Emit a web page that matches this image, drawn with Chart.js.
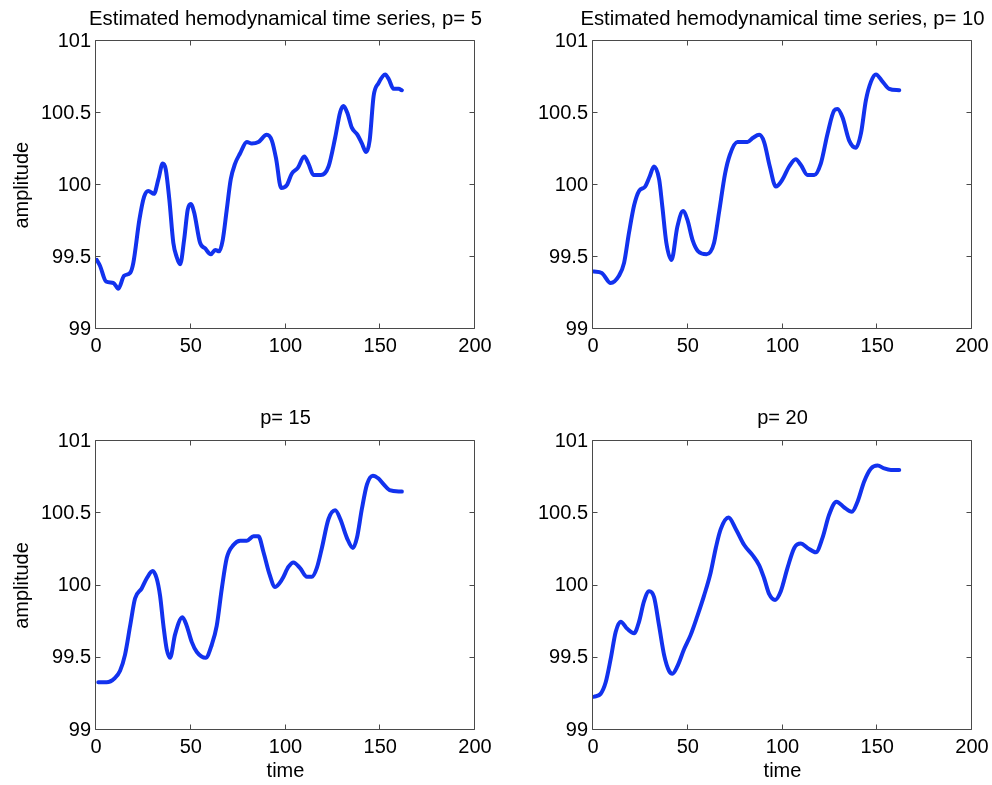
<!DOCTYPE html>
<html>
<head>
<meta charset="utf-8">
<script src="https://cdn.jsdelivr.net/npm/chart.js@4.4.1/dist/chart.umd.min.js"></script>
<style>
  html, body { margin: 0; padding: 0; background: #fff; overflow: hidden; }
  #wrap { position: relative; width: 992px; height: 785px; overflow: hidden; }
  #wrap canvas { position: absolute; }
</style>
</head>
<body>
<div id="wrap">
  <canvas id="c5" width="571" height="392" style="left:0;top:0"></canvas>
  <canvas id="c10" width="573" height="392" style="left:496px;top:0"></canvas>
  <canvas id="c15" width="571" height="393" style="left:0;top:392px"></canvas>
  <canvas id="c20" width="573" height="393" style="left:496px;top:392px"></canvas>
</div>
<script>
const xTicks = [0, 50, 100, 150, 200];
const yTicks = [99, 99.5, 100, 100.5, 101];

// p = 5
const time5 = [0.4, 2.1, 5.3, 9.2, 11.8, 14.8, 18, 19.7, 22.9, 25.4, 27.6, 30.6, 32.9, 35.2, 36.8, 38.7, 40.8, 42.6, 44.4, 46.5, 48.4, 50, 51.8, 54.9, 57.6, 60.6, 62.9, 65, 66.9, 69, 71.1, 73.4, 76, 79.6, 82.2, 85.7, 90.1, 92.8, 95.1, 97.7, 100.7, 103.3, 106.5, 109.9, 112.1, 114.8, 118.7, 122.7, 126.2, 128.9, 130.6, 132.7, 135, 138, 140.3, 142.6, 144.4, 146.5, 149.1, 152.6, 154.4, 157, 159.7, 161.4];
const amp5 = [99.48, 99.44, 99.33, 99.32, 99.28, 99.37, 99.39, 99.46, 99.76, 99.92, 99.96, 99.94, 100.04, 100.15, 100.11, 99.9, 99.6, 99.5, 99.45, 99.62, 99.83, 99.87, 99.81, 99.6, 99.56, 99.52, 99.55, 99.54, 99.62, 99.83, 100.04, 100.15, 100.22, 100.3, 100.29, 100.3, 100.35, 100.31, 100.18, 99.98, 100, 100.08, 100.12, 100.2, 100.15, 100.07, 100.07, 100.13, 100.33, 100.51, 100.55, 100.5, 100.4, 100.35, 100.29, 100.23, 100.31, 100.62, 100.71, 100.77, 100.74, 100.67, 100.67, 100.66];

// p = 10
const time10 = [0.5, 4.6, 9.3, 13.7, 16.4, 19, 21.7, 24.3, 27.5, 29.9, 32.2, 34.9, 36.6, 38.7, 41.4, 44.5, 47.5, 49.8, 52.5, 55.5, 59.9, 63.9, 66.5, 69.7, 72.2, 76.2, 81.5, 84.5, 87.7, 90.3, 93.3, 96.5, 100, 103.5, 107, 109.7, 113.2, 116.7, 120.2, 123.8, 127.3, 129, 131.7, 135.2, 138.7, 141.4, 144, 146.7, 149.3, 152.8, 156.3, 161.6];
const amp10 = [99.4, 99.39, 99.32, 99.37, 99.46, 99.67, 99.86, 99.96, 99.99, 100.06, 100.13, 100.04, 99.85, 99.6, 99.48, 99.71, 99.82, 99.76, 99.62, 99.54, 99.52, 99.6, 99.81, 100.08, 100.21, 100.3, 100.3, 100.33, 100.35, 100.3, 100.13, 99.99, 100.04, 100.13, 100.18, 100.14, 100.07, 100.07, 100.15, 100.36, 100.52, 100.53, 100.47, 100.31, 100.26, 100.36, 100.59, 100.72, 100.77, 100.72, 100.67, 100.66];

// p = 15
const time15 = [1.2, 5.6, 10, 12.7, 15.3, 18, 20.6, 24.1, 26.8, 29.9, 32, 33.8, 35.6, 37.3, 39.1, 41.7, 45.6, 47.9, 50.5, 53.2, 57.9, 61.1, 63.7, 66.4, 69, 72.5, 76.1, 79.6, 83.1, 85.7, 88.4, 91.5, 94.5, 98.1, 101.6, 104.2, 107.7, 111.3, 113.9, 116.5, 119.2, 122.7, 126.2, 128.9, 132.4, 135.6, 137.7, 140.3, 143, 146.1, 149.1, 151.8, 154.9, 161.4];
const amp15 = [99.33, 99.33, 99.36, 99.41, 99.52, 99.72, 99.91, 99.98, 100.05, 100.1, 100.05, 99.93, 99.72, 99.56, 99.5, 99.66, 99.78, 99.72, 99.61, 99.54, 99.5, 99.59, 99.72, 99.98, 100.19, 100.28, 100.31, 100.31, 100.34, 100.34, 100.23, 100.08, 99.99, 100.04, 100.13, 100.16, 100.12, 100.06, 100.06, 100.12, 100.26, 100.46, 100.52, 100.46, 100.33, 100.26, 100.33, 100.53, 100.7, 100.76, 100.74, 100.7, 100.66, 100.65];

// p = 20
const time20 = [0.5, 4, 6.7, 9.3, 12, 14.6, 18.1, 21.7, 24.3, 26.9, 29.6, 32.2, 34.9, 37.5, 40.1, 41.9, 44.5, 48.1, 51.6, 55.1, 58.6, 62.1, 64.8, 67.4, 71.5, 75.4, 79.8, 84.2, 87.7, 90.3, 93, 96.1, 99.1, 102.6, 106.2, 109.7, 113.2, 117.6, 121.1, 124.6, 128.5, 132.6, 136.6, 139.6, 143.1, 146.7, 150.2, 153.7, 157.2, 161.6];
const amp20 = [99.23, 99.25, 99.33, 99.49, 99.68, 99.75, 99.7, 99.67, 99.75, 99.89, 99.96, 99.92, 99.72, 99.52, 99.41, 99.39, 99.44, 99.56, 99.66, 99.79, 99.93, 100.09, 100.26, 100.39, 100.47, 100.39, 100.28, 100.21, 100.14, 100.05, 99.94, 99.9, 99.96, 100.12, 100.26, 100.29, 100.26, 100.23, 100.33, 100.49, 100.58, 100.54, 100.51, 100.58, 100.72, 100.81, 100.83, 100.81, 100.8, 100.8];

Chart.defaults.font.family = "'Liberation Sans', Arial, sans-serif";
Chart.defaults.font.size = 20;
Chart.defaults.color = '#000';

// frame round the plot area plus inward ticks on all four sides
const boxTicks = {
  id: 'boxTicks',
  afterDatasetsDraw(chart) {
    const {ctx, chartArea: a, scales: {x, y}} = chart;
    const L = Math.round(a.left) - 0.5, R = Math.round(a.right) - 0.5;
    const T = Math.round(a.top) - 0.5, B = Math.round(a.bottom) - 0.5;
    ctx.save();
    ctx.strokeStyle = '#4a4a4a';
    ctx.lineWidth = 1;
    ctx.beginPath();
    ctx.rect(L, T, R - L, B - T);
    xTicks.forEach(v => {
      const px = Math.round(x.getPixelForValue(v)) - 0.5;
      ctx.moveTo(px, B); ctx.lineTo(px, B - 5);
      ctx.moveTo(px, T); ctx.lineTo(px, T + 5);
    });
    yTicks.forEach(v => {
      const py = Math.round(y.getPixelForValue(v)) - 0.5;
      ctx.moveTo(L, py); ctx.lineTo(L + 5, py);
      ctx.moveTo(R, py); ctx.lineTo(R - 5, py);
    });
    ctx.stroke();
    ctx.restore();
  }
};

// canvas is wider than the cell so its centre sits over the plot centre;
// an empty right-hand axis takes up the extra room, and the full-width
// title then lands centred over the axes without being squeezed
function makeChart(id, times, amps, title, o) {
  new Chart(document.getElementById(id), {
    type: 'line',
    data: {
      datasets: [{
        data: times.map((t, i) => ({x: t, y: amps[i]})),
        borderColor: '#1232ee',
        borderWidth: 4,
        pointRadius: 0,
        cubicInterpolationMode: 'monotone',
        borderCapStyle: 'round',
        borderJoinStyle: 'round',
        fill: false
      }]
    },
    options: {
      responsive: false,
      animation: false,
      layout: {padding: 0},
      plugins: {
        legend: {display: false},
        tooltip: {enabled: false},
        title: {
          display: true, text: title, fullSize: true, color: '#000',
          font: {size: o.titleSize, weight: 'normal'},
          padding: {top: o.titleTop, bottom: o.titleBottom}
        }
      },
      scales: {
        x: {
          type: 'linear', min: 0, max: 200,
          grid: {display: false, drawTicks: false},
          border: {display: false},
          ticks: {padding: 5, maxRotation: 0, callback: v => String(v)},
          afterBuildTicks: s => { s.ticks = xTicks.map(v => ({value: v})); },
          afterFit: s => { s.height = o.xHeight; },
          title: {display: o.xTitle, text: 'time', padding: {top: 0, bottom: 2}}
        },
        y: {
          type: 'linear', min: 99, max: 101,
          grid: {display: false, drawTicks: false},
          border: {display: false},
          ticks: {padding: 5, callback: v => String(v)},
          afterBuildTicks: s => { s.ticks = yTicks.map(v => ({value: v})); },
          afterFit: s => { s.width = o.yWidth; },
          title: {display: o.yTitle, text: 'amplitude', padding: {top: 10, bottom: 0}}
        },
        spacer: {
          type: 'linear', position: 'right', display: true,
          grid: {display: false, drawTicks: false},
          border: {display: false},
          ticks: {display: false},
          afterFit: s => { s.width = o.padRight; }
        }
      }
    },
    plugins: [boxTicks]
  });
}

makeChart('c5', time5, amp5, 'Estimated hemodynamical time series, p= 5',
  {padRight: 96, yWidth: 96, xHeight: 63, titleSize: 20.3, titleTop: 7, titleBottom: 10, xTitle: false, yTitle: true});
makeChart('c10', time10, amp10, 'Estimated hemodynamical time series, p= 10',
  {padRight: 97, yWidth: 97, xHeight: 63, titleSize: 20.3, titleTop: 7, titleBottom: 10, xTitle: false, yTitle: false});
makeChart('c15', time15, amp15, 'p= 15',
  {padRight: 96, yWidth: 96, xHeight: 55, titleSize: 20, titleTop: 14, titleBottom: 11, xTitle: true, yTitle: true});
makeChart('c20', time20, amp20, 'p= 20',
  {padRight: 97, yWidth: 97, xHeight: 55, titleSize: 20, titleTop: 14, titleBottom: 11, xTitle: true, yTitle: false});
</script>
</body>
</html>
